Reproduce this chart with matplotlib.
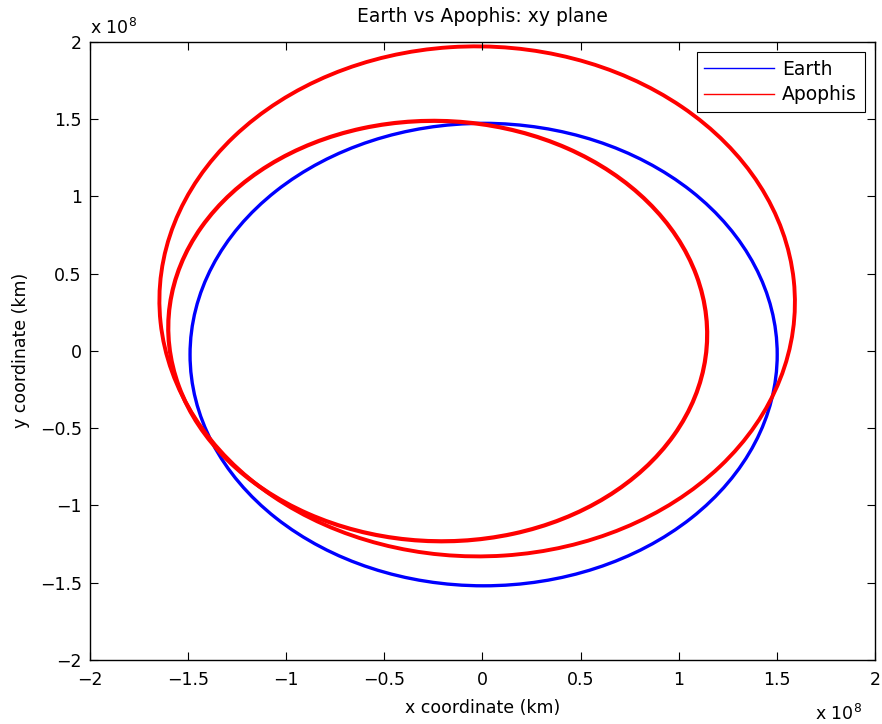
import matplotlib
matplotlib.use("Agg")
import matplotlib.pyplot as plt
from matplotlib.patches import Ellipse
from matplotlib.lines import Line2D
from matplotlib.ticker import FuncFormatter

plt.rcParams['font.family'] = ['DejaVu Sans']

# Orbit data (km): ellipse centre, full axes, orientation (deg)
orbit_names = ["Earth", "Apophis (pre-2029)", "Apophis (post-2029)"]
center_x = [0.006e8, -0.228e8, -0.027e8]
center_y = [-0.024e8, 0.128e8, 0.320e8]
major_axis = [2.992e8, 2.758e8, 3.300e8]
minor_axis = [2.992e8, 2.708e8, 3.238e8]
orientation_deg = [0.0, 150.8, 94.8]
orbit_colors = ["#0000ff", "#ff0000", "#ff0000"]
orbit_widths = [2.4, 3.0, 2.8]

legend_labels = ["Earth", "Apophis"]
legend_colors = ["#0000ff", "#ff0000"]

tick_values = [v * 0.5e8 for v in range(-4, 5)]

fig = plt.figure(figsize=(8.82, 7.24), dpi=100)
ax = fig.add_axes([0.102, 0.0884, 0.890, 0.854])

for cx, cy, w, h, ang, col, lw in zip(center_x, center_y, major_axis, minor_axis,
                                      orientation_deg, orbit_colors, orbit_widths):
    ax.add_patch(Ellipse((cx, cy), w, h, angle=ang, fill=False,
                         edgecolor=col, linewidth=lw))

ax.set_xlim(-2e8, 2e8)
ax.set_ylim(-2e8, 2e8)
ax.set_xticks(tick_values)
ax.set_yticks(tick_values)
fmt = FuncFormatter(lambda v, p: ("%g" % (v / 1e8)).replace("-", "\u2212"))
ax.xaxis.set_major_formatter(fmt)
ax.yaxis.set_major_formatter(fmt)
ax.tick_params(direction='in', length=6, width=0.8, top=True, right=True,
               labelsize=12.5)
ax.tick_params(axis='x', pad=8)
ax.tick_params(axis='y', pad=6)
for s in ax.spines.values():
    s.set_linewidth(1.0)

ax.set_xlabel("x coordinate (km)", fontsize=12.5, labelpad=7)
ax.set_ylabel("y coordinate (km)", fontsize=12.5, labelpad=7)
ax.set_title("Earth vs Apophis: xy plane", fontsize=13.5, pad=14)

fig.text(0.102, 0.962, r"x 10$^{8}$", fontsize=12.5, ha='left', va='center')
fig.text(0.977, 0.014, r"x 10$^{8}$", fontsize=12.5, ha='right', va='center')

handles = [Line2D([0], [0], color=c, lw=1) for c in legend_colors]
leg = ax.legend(handles, legend_labels, loc='upper right', fontsize=13.5,
                fancybox=False, framealpha=1, edgecolor='black',
                borderaxespad=0.55, handlelength=3.7, labelspacing=0.35,
                borderpad=0.4, handletextpad=0.45)
leg.get_frame().set_linewidth(0.8)

fig.savefig("out.png", dpi=100)
